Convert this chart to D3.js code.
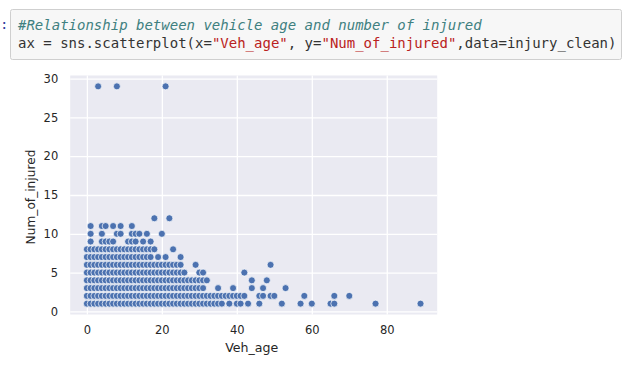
<!DOCTYPE html>
<html>
<head>
<meta charset="utf-8">
<script src="https://cdn.jsdelivr.net/npm/d3@7"></script>
<style>
  html, body { margin: 0; padding: 0; background: #fff; }
  svg { display: block; }
</style>
</head>
<body>
<div id="chart"></div>
<script>
// values (Veh_age vs Num_of_injured)
const xTicks = [0, 20, 40, 60, 80];
const yTicks = [0, 5, 10, 15, 20, 25, 30];
const injuredLevels = [1, 2, 3, 4, 5, 6, 7, 8, 9, 10, 11, 12, 29];

const vehAge1 = [0, 1, 2, 3, 4, 5, 6, 7, 8, 9, 10, 11, 12, 13, 14, 15, 16, 17, 18, 19, 20, 21, 22, 23, 24, 25, 26, 27, 28, 29, 30, 31, 32, 33, 34, 35, 36, 38, 40, 41, 43, 46, 52, 57, 60, 65, 66, 77, 89];
const vehAge2 = [0, 1, 2, 3, 4, 5, 6, 7, 8, 9, 10, 11, 12, 13, 14, 15, 16, 17, 18, 19, 20, 21, 22, 23, 24, 25, 26, 27, 28, 29, 30, 31, 32, 33, 34, 35, 36, 37, 38, 39, 40, 41, 42, 46, 47, 49, 50, 58, 66, 70];
const vehAge3 = [0, 1, 2, 3, 4, 5, 6, 7, 8, 9, 10, 11, 12, 13, 14, 15, 16, 17, 18, 19, 20, 21, 22, 23, 24, 25, 26, 27, 28, 29, 30, 31, 35, 39, 44, 47, 53];
const vehAge4 = [0, 1, 2, 3, 4, 5, 6, 7, 8, 9, 10, 11, 12, 13, 14, 15, 16, 17, 18, 19, 20, 21, 22, 23, 24, 25, 26, 27, 28, 29, 30, 31, 32, 44, 48];
const vehAge5 = [0, 1, 2, 3, 4, 5, 6, 7, 8, 9, 10, 11, 12, 13, 14, 15, 16, 17, 18, 19, 20, 21, 22, 23, 24, 25, 26, 30, 31, 42];
const vehAge6 = [0, 1, 2, 3, 4, 5, 6, 7, 8, 9, 10, 11, 12, 13, 14, 15, 16, 17, 18, 19, 20, 21, 22, 23, 24, 25, 29, 49];
const vehAge7 = [0, 1, 2, 3, 4, 5, 6, 7, 8, 9, 10, 11, 12, 13, 14, 15, 16, 17, 19, 21, 25];
const vehAge8 = [0, 1, 2, 3, 4, 5, 6, 7, 8, 9, 10, 11, 12, 13, 14, 15, 16, 17, 18, 23];
const vehAge9 = [1, 4, 5, 6, 7, 11, 12, 13, 15, 17];
const vehAge10 = [1, 4, 8, 9, 12, 13, 14, 16, 20];
const vehAge11 = [1, 4, 5, 7, 9, 12];
const vehAge12 = [18, 22];
const vehAge29 = [3, 8, 21];

const vehAgeByLevel = [vehAge1, vehAge2, vehAge3, vehAge4, vehAge5, vehAge6, vehAge7,
  vehAge8, vehAge9, vehAge10, vehAge11, vehAge12, vehAge29];

const points = [];
injuredLevels.forEach((n, i) => {
  vehAgeByLevel[i].forEach(a => points.push({ veh_age: a, injured: n }));
});

const width = 629, height = 375;
const svg = d3.select("#chart").append("svg")
  .attr("width", width).attr("height", height);

// --- notebook code cell ---
const mono = "'DejaVu Sans Mono', 'Liberation Mono', monospace";

// only the colon of the prompt shows at the left edge
svg.append("text")
  .attr("x", 0).attr("y", 29)
  .style("font-family", mono).style("font-size", "14px")
  .style("fill", "#303F9F")
  .text(":");

svg.append("rect")
  .attr("x", 10.5).attr("y", 9.5)
  .attr("width", 611).attr("height", 50)
  .attr("rx", 2)
  .attr("fill", "#f7f7f7").attr("stroke", "#cfcfcf");

const code = svg.append("g")
  .style("font-family", mono).style("font-size", "14px");

code.append("text")
  .attr("x", 18).attr("y", 29.5)
  .attr("xml:space", "preserve")
  .style("font-style", "italic").style("fill", "#408080")
  .text("#Relationship between vehicle age and number of injured");

const line2 = code.append("text")
  .attr("x", 18).attr("y", 47.5)
  .attr("xml:space", "preserve");
[
  ["ax = sns.scatterplot(x=", "#333"],
  ["\"Veh_age\"", "#BA2121"],
  [", y=", "#333"],
  ["\"Num_of_injured\"", "#BA2121"],
  [",data=injury_clean)", "#333"]
].forEach(([t, c]) => line2.append("tspan").style("fill", c).text(t));

// --- scatter plot ---
const plot = { left: 70.2, right: 437.2, top: 75.5, bottom: 314.5 };

const x = d3.scaleLinear().domain([-4.45, 93.45]).range([plot.left, plot.right]);
const y = d3.scaleLinear().domain([-0.4, 30.4]).range([plot.bottom, plot.top]);

svg.append("rect")
  .attr("x", plot.left).attr("y", plot.top)
  .attr("width", plot.right - plot.left).attr("height", plot.bottom - plot.top)
  .attr("fill", "#EAEAF2");

const tickFont = "'DejaVu Sans', sans-serif";

const xAxis = svg.append("g")
  .attr("transform", `translate(0,${plot.bottom})`)
  .call(d3.axisBottom(x).tickValues(xTicks).tickSize(-(plot.bottom - plot.top)).tickPadding(11));

const yAxis = svg.append("g")
  .attr("transform", `translate(${plot.left},0)`)
  .call(d3.axisLeft(y).tickValues(yTicks).tickSize(-(plot.right - plot.left)).tickPadding(12));

[xAxis, yAxis].forEach(g => {
  g.select(".domain").remove();
  g.selectAll(".tick line").attr("stroke", "#fff").attr("stroke-width", 1.3);
  g.selectAll(".tick text")
    .style("font-family", tickFont).style("font-size", "11.5px")
    .style("fill", "#262626");
});

svg.append("g")
  .selectAll("circle")
  .data(points).enter().append("circle")
  .attr("cx", d => x(d.veh_age))
  .attr("cy", d => y(d.injured))
  .attr("r", 3.5)
  .attr("fill", "#4C72B0")
  .attr("stroke", "#fff")
  .attr("stroke-width", 0.7);

// axis labels
svg.append("text")
  .attr("x", (plot.left + plot.right) / 2 - 2).attr("y", 351.5)
  .attr("text-anchor", "middle")
  .style("font-family", tickFont).style("font-size", "12.6px")
  .style("fill", "#262626")
  .text("Veh_age");

svg.append("text")
  .attr("transform", `translate(34.5,${(plot.top + plot.bottom) / 2 + 2}) rotate(-90)`)
  .attr("text-anchor", "middle")
  .style("font-family", tickFont).style("font-size", "12.2px")
  .style("fill", "#262626")
  .text("Num_of_injured");
</script>
</body>
</html>
